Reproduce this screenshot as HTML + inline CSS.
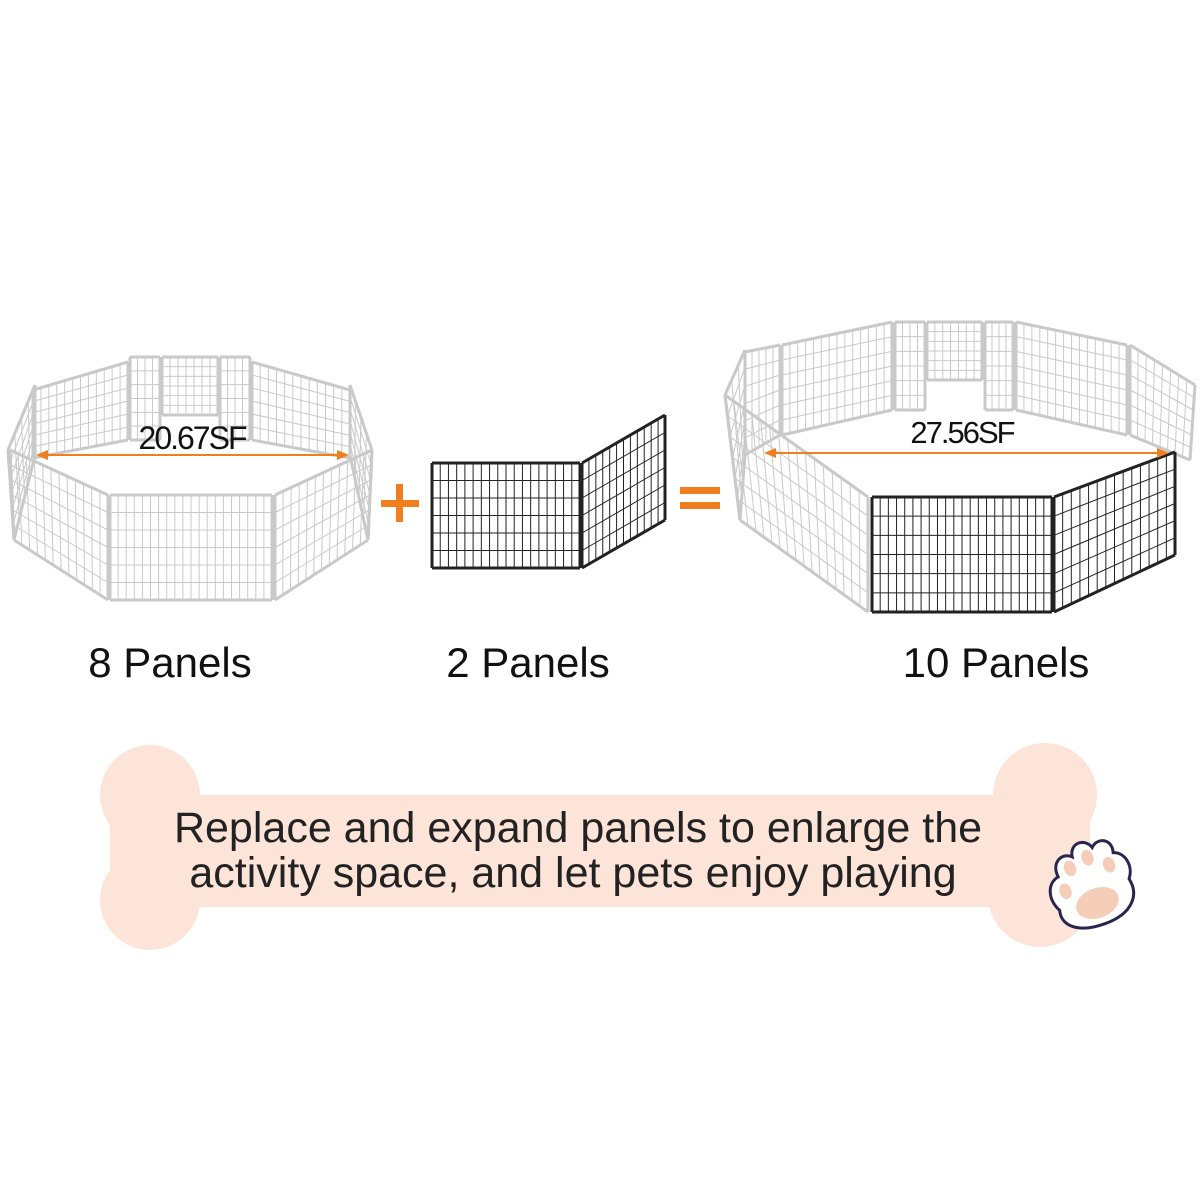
<!DOCTYPE html>
<html><head><meta charset="utf-8"><style>
html,body{margin:0;padding:0;background:#fff;}
svg{display:block}
text{font-family:"Liberation Sans",sans-serif;}
</style></head><body>
<svg id="s" width="1200" height="1200" viewBox="0 0 1200 1200" xmlns="http://www.w3.org/2000/svg">
<g fill="#fde4d8">
<rect x="110" y="795" width="980" height="112"/>
<circle cx="150" cy="795" r="50"/>
<circle cx="150" cy="900" r="50"/>
<circle cx="1045" cy="795" r="52"/>
<circle cx="1040" cy="895" r="52"/>
</g>
<text x="578" y="842" font-size="43" text-anchor="middle" fill="#222">Replace and expand panels to enlarge the</text>
<text x="573" y="887" font-size="43" text-anchor="middle" fill="#222">activity space, and let pets enjoy playing</text>
<g transform="translate(1092,888) rotate(-20)" stroke="#2a2450" stroke-width="3" fill="#fff">
<path d="M-38,10 C-46,-5 -40,-20 -28,-22 C-30,-38 -16,-44 -8,-36 C-6,-50 10,-50 14,-38 C22,-46 36,-40 32,-26 C44,-22 46,-6 38,4 C42,22 30,38 0,38 C-30,38 -42,24 -38,10Z"/>
<g fill="#f6cdb8" stroke="none">
<ellipse cx="0" cy="16" rx="22" ry="15"/>
<ellipse cx="-26" cy="-6" rx="6" ry="8"/>
<ellipse cx="-14" cy="-26" rx="6" ry="8"/>
<ellipse cx="6" cy="-30" rx="6" ry="8"/>
<ellipse cx="24" cy="-16" rx="6" ry="8"/>
</g></g>
<g id="pens"></g>
<line x1="40" y1="455" x2="345" y2="455" stroke="#f07e1e" stroke-width="2"/>
<polygon points="36,455 48,450 48,460" fill="#f07e1e"/>
<polygon points="349,455 337,450 337,460" fill="#f07e1e"/>
<text x="192" y="449" font-size="32" text-anchor="middle" fill="#111" letter-spacing="-2">20.67SF</text>
<line x1="768" y1="453" x2="1165" y2="453" stroke="#f07e1e" stroke-width="2"/>
<polygon points="764,453 776,448 776,458" fill="#f07e1e"/>
<polygon points="1169,453 1157,448 1157,458" fill="#f07e1e"/>
<text x="962" y="443" font-size="31" text-anchor="middle" fill="#111" letter-spacing="-2">27.56SF</text>
<g fill="#f07e1e"><rect x="381" y="500" width="38" height="7"/><rect x="396" y="484" width="7" height="38"/>
<rect x="680" y="487" width="40" height="7"/><rect x="680" y="502" width="40" height="7"/></g>
<g font-size="42" fill="#111" text-anchor="middle">
<text x="170" y="677">8 Panels</text>
<text x="528" y="677">2 Panels</text>
<text x="996" y="677">10 Panels</text></g>
</svg>
<script>
const g=document.getElementById('pens');const NS='http://www.w3.org/2000/svg';
function P(tl,tr,br,bl,col,n,w){
 const add=(x1,y1,x2,y2,sw)=>{const l=document.createElementNS(NS,'line');l.setAttribute('x1',x1);l.setAttribute('y1',y1);l.setAttribute('x2',x2);l.setAttribute('y2',y2);l.setAttribute('stroke',col);l.setAttribute('stroke-width',sw);g.appendChild(l);};
 const L=(a,b,t)=>[a[0]+(b[0]-a[0])*t,a[1]+(b[1]-a[1])*t];
 for(let i=1;i<n;i++){const a=L(tl,tr,i/n),b=L(bl,br,i/n);add(a[0],a[1],b[0],b[1],1);}
 for(let j=1;j<6;j++){const a=L(tl,bl,j/6),b=L(tr,br,j/6);add(a[0],a[1],b[0],b[1],1);}
 add(...tl,...tr,w);add(...tr,...br,w);add(...br,...bl,w);add(...bl,...tl,w);
}
const G='#c9c9c9',B='#222';
P([33,390],[128,362],[128,440],[33,458],G,12,3);
P([130,357],[160,357],[160,440],[130,440],G,4,3);
P([162,357],[218,357],[218,415],[162,415],G,7,3);
P([220,357],[250,357],[250,440],[220,440],G,4,3);
P([252,362],[350,390],[350,458],[252,440],G,12,3);
P([8,450],[35,385],[35,455],[14,540],G,4,3);
P([350,385],[372,450],[368,540],[350,455],G,4,3);
P([10,450],[108,495],[108,600],[14,540],G,12,3);
P([110,495],[272,495],[272,600],[110,600],G,20,3);
P([275,495],[372,450],[368,540],[275,600],G,12,3);
P([432,463],[580,463],[580,568],[432,568],B,18,3);
P([582,463],[665,415],[665,520],[582,568],B,12,3);
P([745,352],[780,345],[780,435],[745,455],G,5,3);
P([782,345],[892,322],[892,410],[782,435],G,14,3);
P([895,322],[925,322],[925,410],[895,410],G,4,3);
P([927,322],[982,322],[982,380],[927,380],G,7,3);
P([985,322],[1013,322],[1013,410],[985,410],G,4,3);
P([1016,322],[1127,345],[1127,435],[1016,410],G,14,3);
P([1130,345],[1195,385],[1190,460],[1130,435],G,8,3);
P([725,395],[745,350],[745,455],[740,520],G,3,3);
P([725,395],[868,497],[868,612],[740,520],G,16,3);
P([872,497],[1052,497],[1052,612],[872,612],B,22,3);
P([1054,497],[1175,452],[1175,555],[1054,612],B,14,3);
</script>
</body></html>
